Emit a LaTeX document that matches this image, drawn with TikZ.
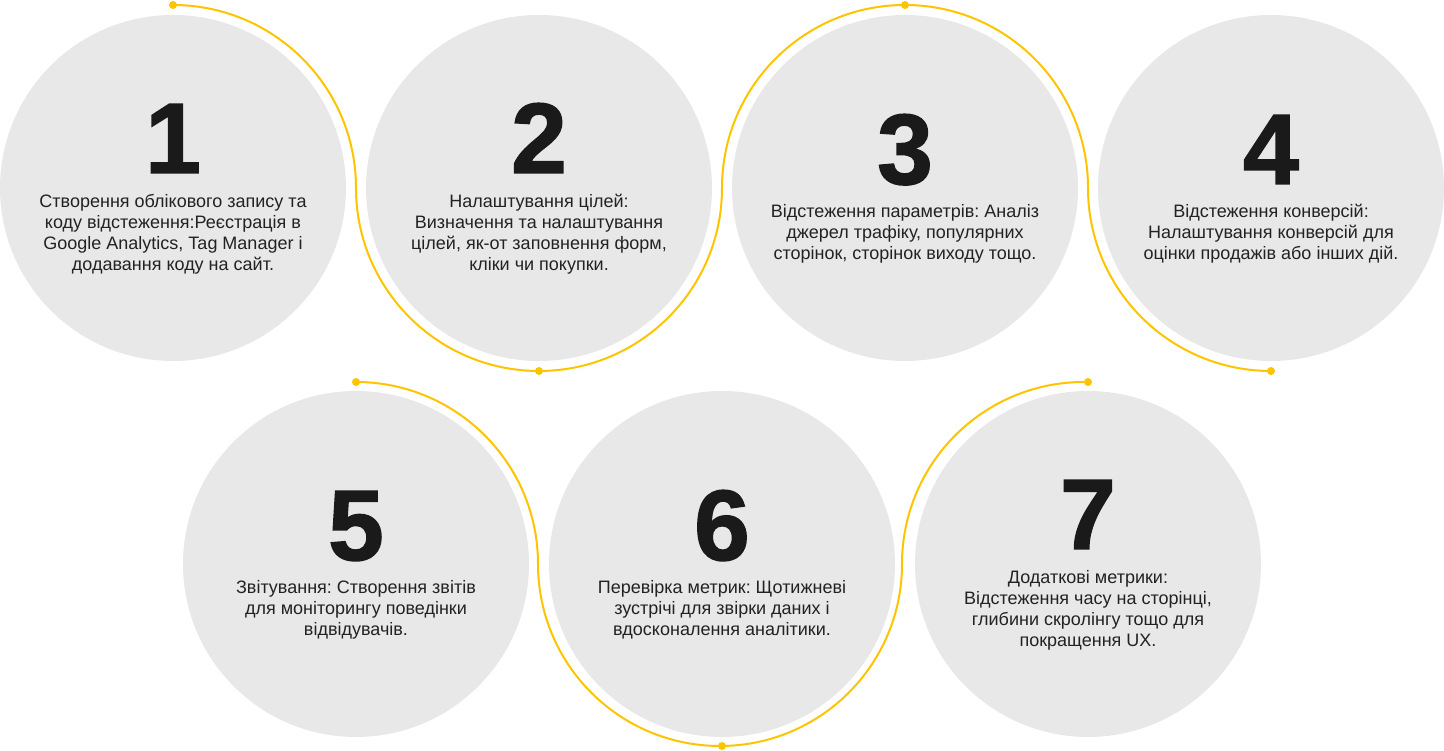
\documentclass[tikz,border=0pt]{standalone}
\usepackage{fontspec}
\setmainfont{Liberation Sans}
\newfontfamily\numfont{Liberation Sans}[BoldFeatures={FakeBold=1.5}]
\frenchspacing
\definecolor{stepgray}{HTML}{E8E8E8}
\definecolor{gold}{HTML}{FFC400}
\definecolor{ink}{HTML}{222222}
\definecolor{numink}{HTML}{1A1A1A}
\tikzset{
  stepcircle/.style={circle, fill=stepgray, minimum size=346pt, inner sep=0pt},
  stepnum/.style={anchor=base, inner sep=0pt, text=numink, font=\numfont\bfseries\fontsize{100}{100}\selectfont},
  steptext/.style={anchor=center, inner sep=0pt, align=center, text=ink, font=\fontsize{18}{21}\selectfont},
  goldline/.style={draw=gold, line width=2pt},
  golddot/.style={circle, fill=gold, minimum size=8pt, inner sep=0pt}
}
\begin{document}
\begin{tikzpicture}[x=1pt,y=1pt]
\useasboundingbox (0,0) rectangle (1444,751);
% circles
\node[stepcircle] (c1) at (173,563) {};
\node[stepcircle] (c2) at (539,563) {};
\node[stepcircle] (c3) at (905,563) {};
\node[stepcircle] (c4) at (1271,563) {};
\node[stepcircle] (c5) at (356,187) {};
\node[stepcircle] (c6) at (722,187) {};
\node[stepcircle] (c7) at (1088,187) {};
% numbers
\node[stepnum] (n1) at ([yshift=15]c1.center) {1};
\node[stepnum] (n2) at ([yshift=15]c2.center) {2};
\node[stepnum] (n3) at ([yshift=4]c3.center) {3};
\node[stepnum] (n4) at ([yshift=4]c4.center) {4};
\node[stepnum] (n5) at ([yshift=4]c5.center) {5};
\node[stepnum] (n6) at ([yshift=4]c6.center) {6};
\node[stepnum] (n7) at ([yshift=15]c7.center) {7};
% texts
\node[steptext] (t1) at ([yshift=-46]c1.center) {Створення облікового запису та\\коду відстеження:Реєстрація в\\Google Analytics, Tag Manager і\\додавання коду на сайт.};
\node[steptext] (t2) at ([yshift=-46]c2.center) {Налаштування цілей:\\Визначення та налаштування\\цілей, як-от заповнення форм,\\кліки чи покупки.};
\node[steptext] (t3) at ([yshift=-46]c3.center) {Відстеження параметрів: Аналіз\\джерел трафіку, популярних\\сторінок, сторінок виходу тощо.};
\node[steptext] (t4) at ([yshift=-46]c4.center) {Відстеження конверсій:\\Налаштування конверсій для\\оцінки продажів або інших дій.};
\node[steptext] (t5) at ([yshift=-46]c5.center) {Звітування: Створення звітів\\для моніторингу поведінки\\відвідувачів.};
\node[steptext] (t6) at ([yshift=-46]c6.center) {Перевірка метрик: Щотижневі\\зустрічі для звірки даних і\\вдосконалення аналітики.};
\node[steptext] (t7) at ([yshift=-46]c7.center) {Додаткові метрики:\\Відстеження часу на сторінці,\\глибини скролінгу тощо для\\покращення UX.};
% dot coordinates
\coordinate (d1) at ([yshift=183]c1.center);
\coordinate (d2) at ([yshift=-183]c2.center);
\coordinate (d3) at ([yshift=183]c3.center);
\coordinate (d4) at ([yshift=-183]c4.center);
\coordinate (d5) at ([yshift=182]c5.center);
\coordinate (d6) at ([yshift=-182]c6.center);
\coordinate (d7) at ([yshift=182]c7.center);
% gold lines
\draw[goldline] (d1) arc[start angle=90, end angle=0, radius=183]
  arc[start angle=180, end angle=360, radius=183]
  arc[start angle=180, end angle=0, radius=183]
  arc[start angle=180, end angle=270, radius=183];
\draw[goldline] (d5) arc[start angle=90, end angle=0, radius=182]
  arc[start angle=180, end angle=360, radius=182]
  arc[start angle=180, end angle=90, radius=182];
% dots
\foreach \d in {d1,d2,d3,d4,d5,d6,d7} \node[golddot] at (\d) {};
\end{tikzpicture}
\end{document}
